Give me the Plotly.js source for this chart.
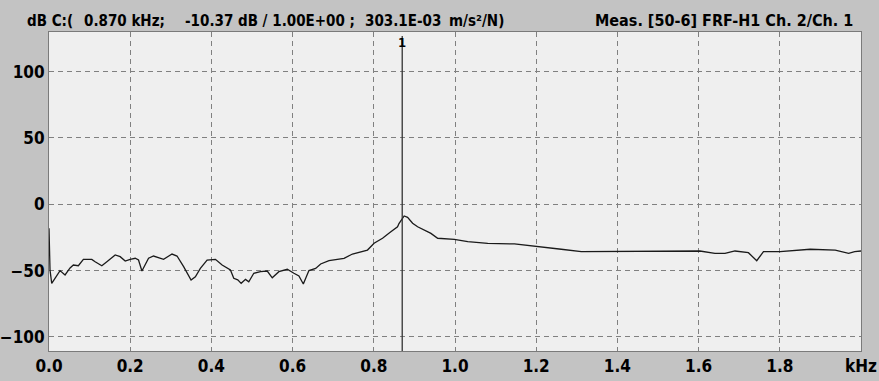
<!DOCTYPE html>
<html>
<head>
<meta charset="utf-8">
<script src="https://cdn.plot.ly/plotly-3.0.1.min.js"></script>
<style>
  html, body { margin: 0; padding: 0; background: #c3c3c3; }
  #chart { width: 879px; height: 381px; }
</style>
</head>
<body>
<div id="chart"></div>
<script>
// FRF-H1 magnitude, Ch. 2 / Ch. 1 (dB re 1 m/s²/N)
const freqKHz = [
  0.000, 0.0025, 0.0067, 0.0148, 0.0272, 0.0395, 0.0519, 0.060, 0.0723, 0.0847,
  0.1054, 0.1136, 0.1301, 0.1425, 0.163, 0.1753, 0.1877, 0.200, 0.2123, 0.2205,
  0.2289, 0.2452, 0.2575, 0.2822, 0.303, 0.3153, 0.3316, 0.3499, 0.3605, 0.3728,
  0.3894, 0.4099, 0.4264, 0.4469, 0.4551, 0.4649, 0.4733, 0.484, 0.4921, 0.5044,
  0.521, 0.5375, 0.5499, 0.5662, 0.5869, 0.6032, 0.6156, 0.6264, 0.6402, 0.6568,
  0.6691, 0.6896, 0.7143, 0.7267, 0.7474, 0.7679, 0.7844, 0.8007, 0.8215, 0.842,
  0.8585, 0.862, 0.870, 0.8748, 0.8832, 0.8956, 0.9079, 0.9242, 0.9407, 0.9573,
  0.9983, 1.0314, 1.0807, 1.1464, 1.200, 1.2617, 1.3111, 1.3686, 1.4346, 1.5005,
  1.558, 1.6032, 1.6402, 1.665, 1.6896, 1.7227, 1.7432, 1.7598, 1.8007, 1.8296,
  1.8748, 1.9365, 1.9696, 1.9844, 2.000
];
const magDB = [
  -18.0, -49.5, -59.6, -55.6, -50.0, -53.3, -48.0, -45.8, -46.3, -41.5,
  -41.5, -43.3, -46.3, -43.3, -38.2, -39.5, -42.8, -41.5, -40.7, -42.0,
  -50.3, -40.7, -39.0, -41.5, -37.5, -39.0, -47.0, -57.1, -54.6, -48.3,
  -42.0, -41.5, -45.8, -49.5, -55.8, -57.0, -59.6, -56.6, -58.4, -52.0,
  -50.8, -50.3, -55.4, -50.8, -49.0, -52.0, -54.0, -60.1, -50.0, -48.3,
  -45.0, -42.5, -41.5, -40.8, -37.5, -35.7, -34.5, -29.4, -25.6, -20.7,
  -16.9, -14.5, -10.37, -8.8, -9.8, -14.3, -16.9, -19.4, -21.9, -25.6,
  -26.4, -28.2, -29.4, -29.9, -32.0, -33.9, -35.7, -35.7, -35.7, -35.2,
  -35.7, -35.2, -37.0, -37.0, -35.2, -36.5, -42.5, -35.7, -35.7, -35.0,
  -33.9, -34.5, -37.0, -35.7, -35.2
];

const xTickVals = [0, 0.2, 0.4, 0.6, 0.8, 1.0, 1.2, 1.4, 1.6, 1.8, 2.0];
const xTickText = ['0.0', '0.2', '0.4', '0.6', '0.8', '1.0', '1.2', '1.4', '1.6', '1.8', 'kHz'];
const yTickVals = [100, 50, 0, -50, -100];

// cursor readout
const cursorFreq = 0.870;
const cursorDB = -10.37;
const headerParts = ['dB C:(', '0.870 kHz;', '-10.37 dB / 1.00E+00 ;', '303.1E-03', 'm/s²/N)'];
const headerRight = 'Meas. [50-6] FRF-H1 Ch. 2/Ch. 1';

const W = 879, H = 381;
const M = { l: 49, r: 18, t: 32, b: 30 };
const plotW = W - M.l - M.r;
const plotH = H - M.t - M.b;
const pxToPaperX = px => (px - M.l) / plotW;
const pxToPaperY = py => (H - M.b - py) / plotH;

const uiFont = { family: '"DejaVu Sans Condensed", "Liberation Sans Narrow", sans-serif', weight: 'bold', color: '#000' };
const f = size => Object.assign({ size: size }, uiFont);

const trace = {
  x: freqKHz,
  y: magDB,
  type: 'scatter',
  mode: 'lines',
  line: { color: '#1a1a1a', width: 1.3 },
  hoverinfo: 'x+y'
};

const headerX = [25, 82, 183, 363, 447];
const annotations = headerParts.map((t, i) => ({
  text: t,
  xref: 'paper', yref: 'paper',
  x: pxToPaperX(headerX[i]), y: pxToPaperY(21),
  xanchor: 'left', yanchor: 'middle',
  showarrow: false,
  font: f(15)
}));
annotations.push({
  text: headerRight,
  xref: 'paper', yref: 'paper',
  x: pxToPaperX(855), y: pxToPaperY(21),
  xanchor: 'right', yanchor: 'middle',
  showarrow: false,
  font: f(16)
});
annotations.push({
  text: '1',
  xref: 'x', yref: 'paper',
  x: cursorFreq, y: pxToPaperY(43),
  xanchor: 'center', yanchor: 'middle',
  showarrow: false,
  font: f(13)
});

const axisCommon = {
  showgrid: true,
  gridcolor: '#808080',
  griddash: '5px,4px',
  gridwidth: 1,
  zeroline: false,
  ticks: '',
  showline: true,
  mirror: true,
  linecolor: '#7a7a7a',
  linewidth: 1,
  tickfont: f(17),
  fixedrange: true
};

const layout = {
  width: W,
  height: H,
  margin: M,
  paper_bgcolor: '#c3c3c3',
  plot_bgcolor: '#efefef',
  showlegend: false,
  font: f(14),
  xaxis: Object.assign({ range: [0, 2.0], tickvals: xTickVals, ticktext: xTickText }, axisCommon),
  yaxis: Object.assign({ range: [-110.6, 129.9], tickvals: yTickVals }, axisCommon),
  shapes: [{
    type: 'line',
    xref: 'x', yref: 'paper',
    x0: cursorFreq, x1: cursorFreq,
    y0: 0, y1: pxToPaperY(36),
    line: { color: '#333333', width: 1.3 }
  }],
  annotations: annotations
};

Plotly.newPlot('chart', [trace], layout, { staticPlot: true, displayModeBar: false });
</script>
</body>
</html>
